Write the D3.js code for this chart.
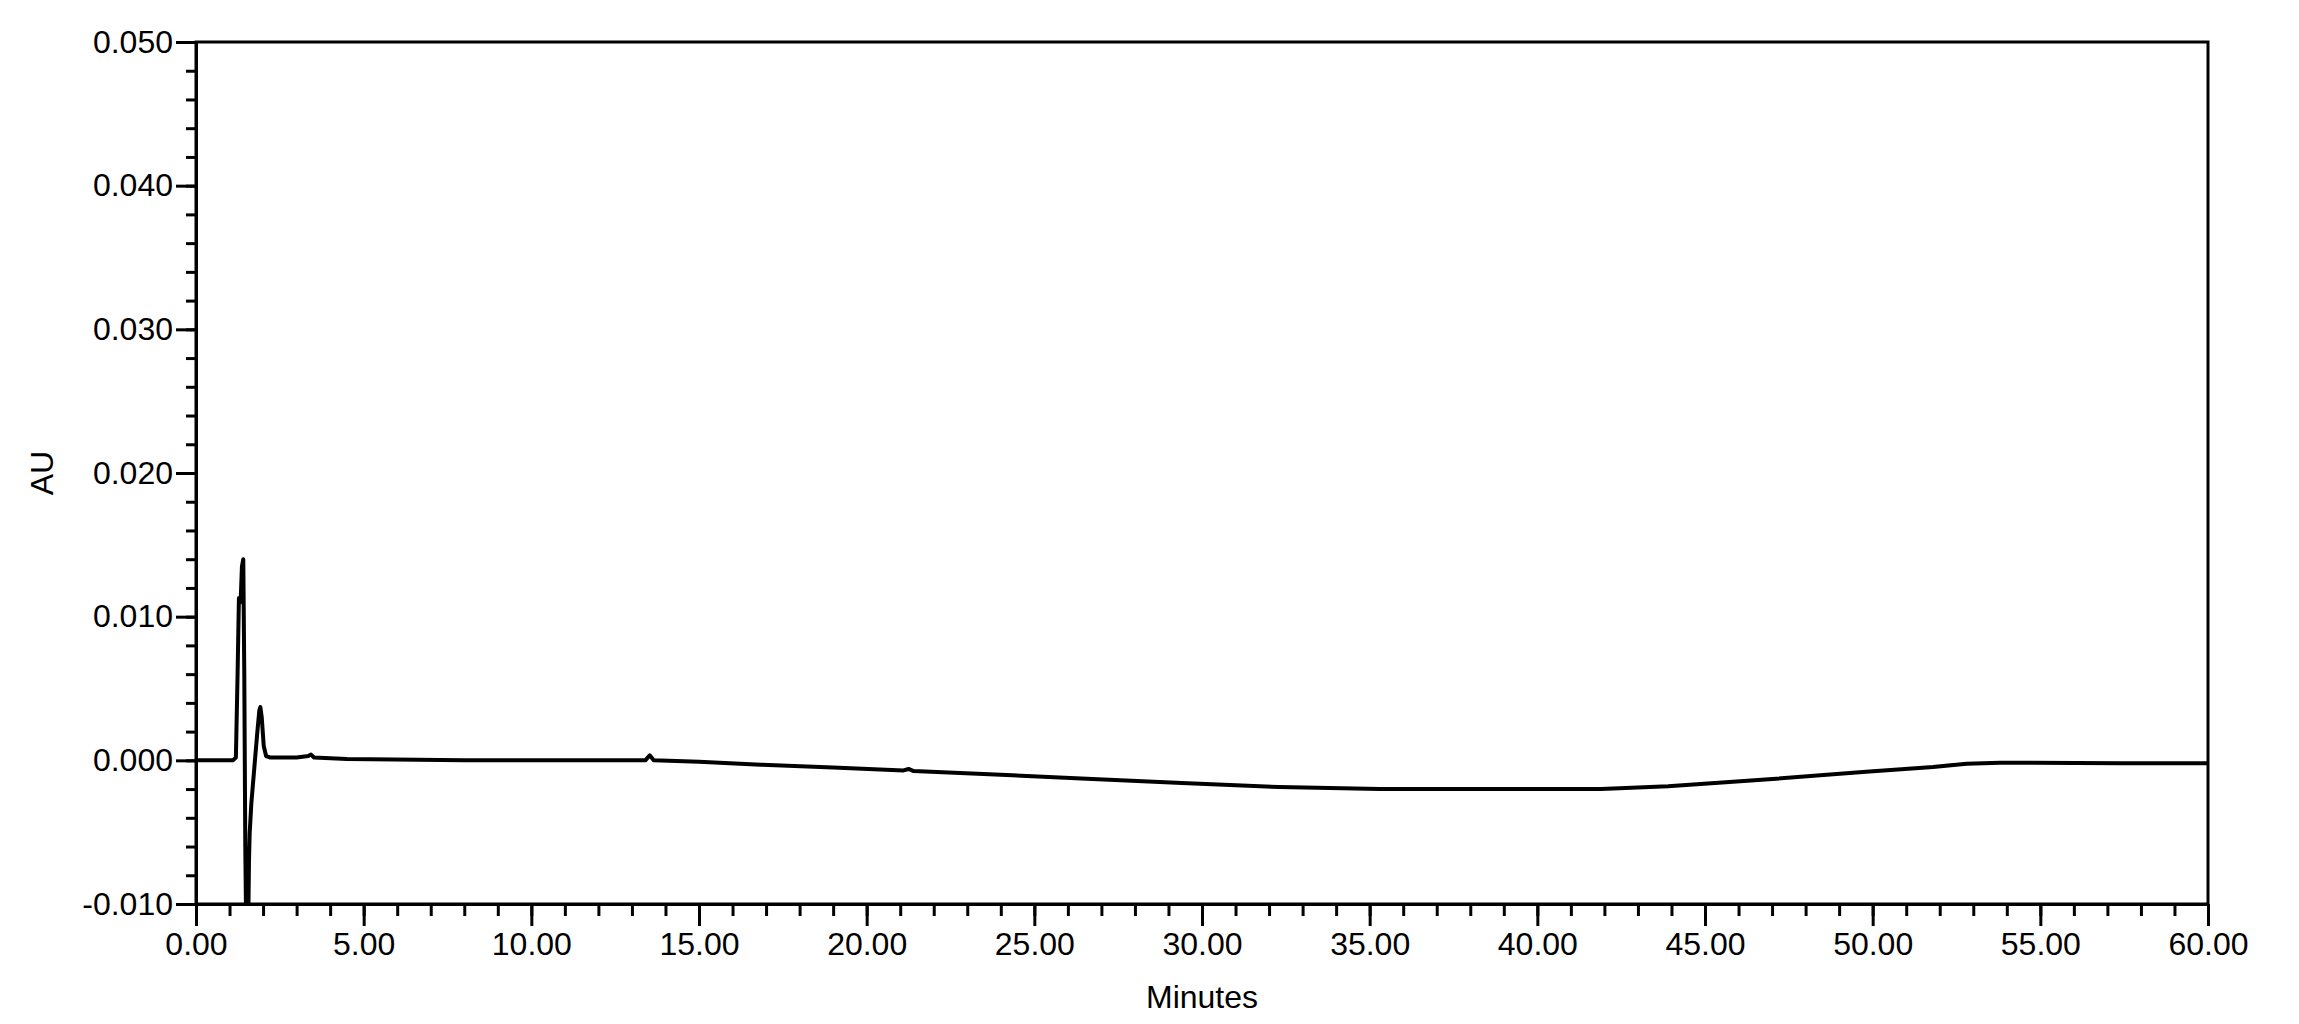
<!DOCTYPE html>
<meta charset="utf-8">
<html>
<head>
    <style>
        body {
            margin: 0;
            background: white;
        }

        svg text {
            font-family: "Liberation Sans", Arial, sans-serif;
            fill: black;
        }

        .trace {
            fill: none;
            stroke: black;
            stroke-width: 4px;
            stroke-linejoin: round;
        }

        .axis path,
        .axis line {
            stroke: black;
            stroke-width: 3px;
        }
    </style>

    <script src="https://d3js.org/d3.v7.min.js"></script>
</head>
<body>
  <svg width="2299" height="1024"></svg>
  <script>

      // chromatogram (minutes, AU)
      var times = [0, 1.10, 1.19, 1.24, 1.28, 1.33, 1.37, 1.41, 1.44, 1.47, 1.50, 1.55, 1.58, 1.60,
                   1.65, 1.74, 1.83, 1.89, 1.92, 1.96, 2.02, 2.09, 2.20, 3.00, 3.35, 3.43, 3.52, 4.50,
                   8.00, 10.90, 13.40, 13.53, 13.65, 15.00, 16.84, 19.00, 21.10, 21.25, 21.40, 24.00,
                   26.40, 29.40, 32.30, 35.30, 38.30, 41.90, 43.90, 46.80, 49.80, 51.80, 52.80, 53.80,
                   57.40, 60.00];
      var au = [0, 0, 0.0002, 0.0060, 0.0113, 0.0110, 0.0135, 0.0140, 0.0060, -0.0060, -0.0125, -0.0130, -0.0070, -0.0051,
                -0.0030, -0.0005, 0.0020, 0.0035, 0.0037, 0.0030, 0.0010, 0.0003, 0.0002, 0.0002, 0.0003, 0.0004, 0.0002, 0.0001,
                0.0000, 0.0000, 0.0000, 0.00035, 0.0000, -0.0001, -0.0003, -0.0005, -0.0007, -0.0006, -0.00075, -0.0010,
                -0.00126, -0.00158, -0.00186, -0.0020, -0.0020, -0.0020, -0.0018, -0.00134, -0.0008, -0.00047, -0.00023, -0.00016,
                -0.0002, -0.0002];

      var xTicks = [0, 5, 10, 15, 20, 25, 30, 35, 40, 45, 50, 55, 60];
      var xMinorTicks = d3.range(0, 61, 1);
      var yTicks = [-0.010, 0.000, 0.010, 0.020, 0.030, 0.040, 0.050];
      var yMinorTicks = d3.range(-0.010, 0.0501, 0.002);

      var svg = d3.select("svg"),
          margin = {left: 196, right: 91, top: 42, bottom: 120},
          width = 2299 - margin.left - margin.right,
          height = 1024 - margin.top - margin.bottom;

      var x = d3.scaleLinear().domain([0, 60]).range([0, width]),
          y = d3.scaleLinear().domain([-0.010, 0.050]).range([height, 0]);

      var g = svg.append("g")
              .attr("transform", "translate(" + margin.left + "," + margin.top + ")");

      g.append("clipPath")
       .attr("id", "plotclip")
       .append("rect")
       .attr("width", width)
       .attr("height", height);

      var fmtY = d3.format(".3f"),
          fmtX = d3.format(".2f");

      // minor ticks
      g.append("g")
       .attr("class", "axis")
       .attr("transform", "translate(0," + height + ")")
       .call(d3.axisBottom(x).tickValues(xMinorTicks).tickSize(12).tickSizeOuter(0).tickFormat(""));

      g.append("g")
       .attr("class", "axis")
       .call(d3.axisLeft(y).tickValues(yMinorTicks).tickSize(10).tickSizeOuter(0).tickFormat(""));

      // major ticks with labels
      g.append("g")
       .attr("class", "axis")
       .attr("transform", "translate(0," + height + ")")
       .call(d3.axisBottom(x).tickValues(xTicks).tickSize(22).tickSizeOuter(0).tickPadding(6)
             .tickFormat(function(d) { return fmtX(d); }))
       .selectAll("text")
       .attr("font-size", "32px");

      g.append("g")
       .attr("class", "axis")
       .call(d3.axisLeft(y).tickValues(yTicks).tickSize(20).tickSizeOuter(0).tickPadding(3)
             .tickFormat(function(d) { return fmtY(d).replace("\u2212", "-"); }))
       .selectAll("text")
       .attr("font-size", "32px");

      g.selectAll(".axis text").attr("font-family", "Liberation Sans, Arial, sans-serif");

      // frame round the plot
      g.append("rect")
       .attr("width", width)
       .attr("height", height)
       .attr("fill", "none")
       .attr("stroke", "black")
       .attr("stroke-width", 3);

      var line = d3.line()
          .x(function(d, i) { return x(times[i]); })
          .y(function(d) { return y(d); });

      g.append("path")
       .datum(au)
       .attr("class", "trace")
       .attr("clip-path", "url(#plotclip)")
       .attr("d", line);

      svg.append("text")
         .attr("transform", "translate(53," + (margin.top + height / 2) + ") rotate(-90)")
         .attr("text-anchor", "middle")
         .attr("font-size", "32px")
         .text("AU");

      svg.append("text")
         .attr("x", margin.left + width / 2)
         .attr("y", 1008)
         .attr("text-anchor", "middle")
         .attr("font-size", "32px")
         .text("Minutes");

  </script>
</body>
</html>
